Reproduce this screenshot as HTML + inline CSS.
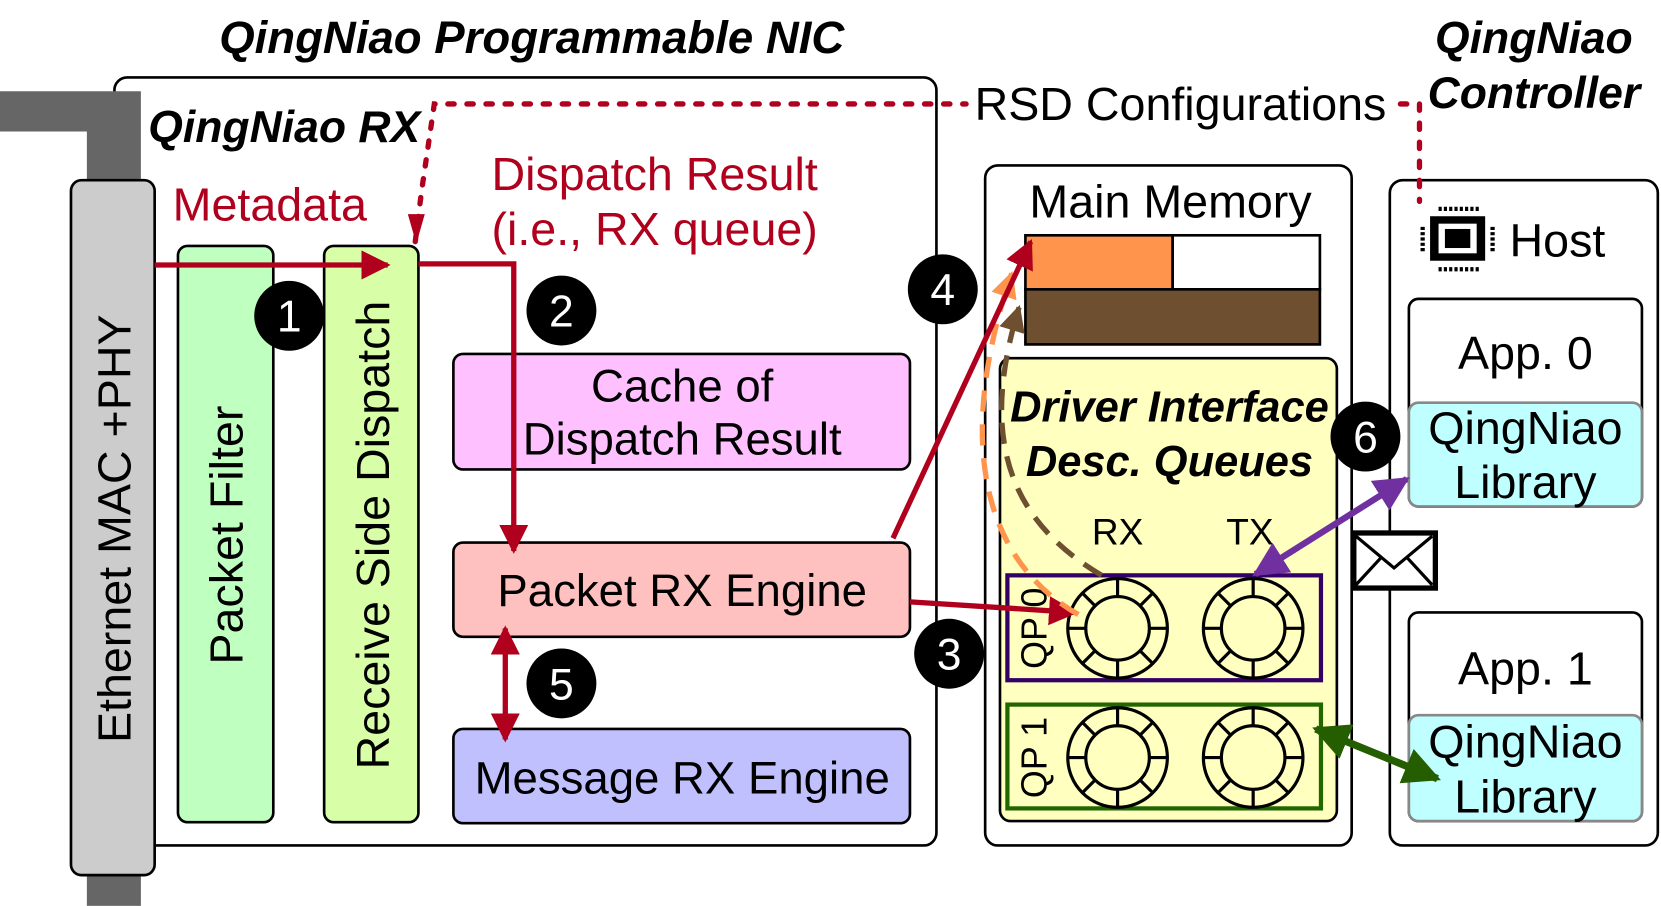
<!DOCTYPE html>
<html><head><meta charset="utf-8"><style>
html,body{margin:0;padding:0;background:#fff;}
svg{display:block;}
text{font-family:"Liberation Sans",sans-serif;}
</style></head><body>
<svg width="1661" height="906" viewBox="0 0 1568 855" xmlns="http://www.w3.org/2000/svg">
<defs>
<marker id="ar" viewBox="0 0 10 10" refX="9" refY="5" markerWidth="5.5" markerHeight="5.5" orient="auto-start-reverse"><path d="M0,0L10,5L0,10z" fill="#b0001e"/></marker>
<marker id="ap" viewBox="0 0 10 10" refX="9" refY="5" markerWidth="5.5" markerHeight="5.5" orient="auto-start-reverse"><path d="M0,0L10,5L0,10z" fill="#7030a0"/></marker>
<marker id="ag" viewBox="0 0 10 10" refX="9" refY="5" markerWidth="5" markerHeight="5" orient="auto-start-reverse"><path d="M0,0L10,5L0,10z" fill="#255e00"/></marker>
<marker id="ab" viewBox="0 0 10 10" refX="9" refY="5" markerWidth="5" markerHeight="5" orient="auto"><path d="M0,0L10,5L0,10z" fill="#6e4f2f"/></marker>
<marker id="ao" viewBox="0 0 10 10" refX="9" refY="5" markerWidth="5" markerHeight="5" orient="auto"><path d="M0,0L10,5L0,10z" fill="#ff944d"/></marker>
<g id="ring" fill="none" stroke="#000" stroke-width="3">
<circle r="47"/><circle r="30"/>
<path d="M0,-47V-30M0,47V30M-47,0H-30M47,0H30M33.2,-33.2L21.2,-21.2M-33.2,-33.2L-21.2,-21.2M33.2,33.2L21.2,21.2M-33.2,33.2L-21.2,21.2"/>
</g>
</defs>

<text x="502" y="50" font-size="43" font-weight="bold" font-style="italic" text-anchor="middle">QingNiao Programmable NIC</text>
<text x="1448" y="50" font-size="42" font-weight="bold" font-style="italic" text-anchor="middle">QingNiao</text>
<text x="1448" y="102" font-size="42" font-weight="bold" font-style="italic" text-anchor="middle">Controller</text>

<rect x="108" y="73" width="776" height="725" rx="12" fill="#fff" stroke="#000" stroke-width="2.5"/>
<path d="M0,86H133V170H82V124H0Z" fill="#666"/>
<rect x="82" y="824" width="51" height="31" fill="#666"/>
<rect x="67" y="170" width="79" height="656" rx="10" fill="#ccc" stroke="#000" stroke-width="2.5"/>
<text transform="translate(123,499) rotate(-90)" font-size="44" text-anchor="middle">Ethernet MAC +PHY</text>

<text x="140" y="134" font-size="42" font-weight="bold" font-style="italic">QingNiao RX</text>

<rect x="168" y="232" width="90" height="544" rx="9" fill="#bfffc0" stroke="#000" stroke-width="2.5"/>
<text transform="translate(229,505) rotate(-90)" font-size="44" text-anchor="middle">Packet Filter</text>
<rect x="306" y="232" width="89" height="544" rx="9" fill="#d8ffa8" stroke="#000" stroke-width="2.5"/>
<text transform="translate(367,505) rotate(-90)" font-size="44" text-anchor="middle">Receive Side Dispatch</text>

<rect x="428" y="334" width="431" height="109" rx="9" fill="#ffc0ff" stroke="#000" stroke-width="2.5"/>
<text x="644" y="379" font-size="43" text-anchor="middle">Cache of</text>
<text x="644" y="429" font-size="43" text-anchor="middle">Dispatch Result</text>
<rect x="428" y="512" width="431" height="89" rx="9" fill="#ffc0c0" stroke="#000" stroke-width="2.5"/>
<text x="644" y="572" font-size="43" text-anchor="middle">Packet RX Engine</text>
<rect x="428" y="688" width="431" height="89" rx="9" fill="#c0c0ff" stroke="#000" stroke-width="2.5"/>
<text x="644" y="749" font-size="43" text-anchor="middle">Message RX Engine</text>

<text x="163" y="208" font-size="44" fill="#b0001e">Metadata</text>
<text x="618" y="179" font-size="44" fill="#b0001e" text-anchor="middle">Dispatch Result</text>
<text x="618" y="231" font-size="44" fill="#b0001e" text-anchor="middle">(i.e., RX queue)</text>

<rect x="930" y="156" width="346" height="642" rx="12" fill="#fff" stroke="#000" stroke-width="2.5"/>
<text x="1105" y="205" font-size="44" text-anchor="middle">Main Memory</text>
<rect x="968" y="222" width="139" height="51" fill="#ff944d" stroke="#000" stroke-width="2.5"/>
<rect x="1107" y="222" width="139" height="51" fill="#fff" stroke="#000" stroke-width="2.5"/>
<rect x="968" y="273" width="278" height="52" fill="#6e4f2f" stroke="#000" stroke-width="2.5"/>

<rect x="944" y="338" width="318" height="437" rx="10" fill="#ffffc0" stroke="#000" stroke-width="2.5"/>
<text x="1104" y="398" font-size="41" font-weight="bold" font-style="italic" text-anchor="middle">Driver Interface</text>
<text x="1104" y="449" font-size="41" font-weight="bold" font-style="italic" text-anchor="middle">Desc. Queues</text>
<text x="1055" y="514" font-size="35" text-anchor="middle">RX</text>
<text x="1180" y="514" font-size="35" text-anchor="middle">TX</text>

<rect x="951" y="543" width="296" height="99" fill="none" stroke="#330066" stroke-width="4"/>
<rect x="951" y="665" width="296" height="98" fill="none" stroke="#226600" stroke-width="4"/>
<text transform="translate(988,593) rotate(-90)" font-size="34" text-anchor="middle">QP 0</text>
<text transform="translate(988,715) rotate(-90)" font-size="34" text-anchor="middle">QP 1</text>
<use href="#ring" x="1055" y="593"/><use href="#ring" x="1183" y="593"/>
<use href="#ring" x="1055" y="715"/><use href="#ring" x="1183" y="715"/>

<rect x="1312" y="170" width="253" height="628" rx="12" fill="#fff" stroke="#000" stroke-width="2.5"/>
<g>
<rect x="1350" y="204" width="52" height="42" fill="#000"/>
<rect x="1358" y="211" width="36" height="28" fill="#fff"/>
<rect x="1364" y="216" width="24" height="18" fill="#000"/>
<path d="M1358,197h38M1358,254h38M1343,214v24M1409,214v24" stroke="#000" stroke-width="4" stroke-dasharray="3,2"/>
</g>
<text x="1425" y="242" font-size="44">Host</text>
<rect x="1330" y="282" width="220" height="196" rx="9" fill="#fff" stroke="#000" stroke-width="2.5"/>
<text x="1440" y="348" font-size="44" text-anchor="middle">App. 0</text>
<rect x="1330" y="380" width="220" height="98" rx="9" fill="#c0ffff" stroke="#888" stroke-width="2.5"/>
<text x="1440" y="419" font-size="44" text-anchor="middle">QingNiao</text>
<text x="1440" y="470" font-size="44" text-anchor="middle">Library</text>
<rect x="1330" y="578" width="220" height="197" rx="9" fill="#fff" stroke="#000" stroke-width="2.5"/>
<text x="1440" y="646" font-size="44" text-anchor="middle">App. 1</text>
<rect x="1330" y="675" width="220" height="100" rx="9" fill="#c0ffff" stroke="#888" stroke-width="2.5"/>
<text x="1440" y="715" font-size="44" text-anchor="middle">QingNiao</text>
<text x="1440" y="767" font-size="44" text-anchor="middle">Library</text>

<rect x="1278" y="503" width="77" height="52" fill="#fff" stroke="#000" stroke-width="5"/>
<path d="M1280,506L1316,536L1352,506M1280,552L1304,526M1352,552L1328,526" fill="none" stroke="#000" stroke-width="3"/>

<path d="M392,228L398,180L410,98H912" fill="none" stroke="#b0001e" stroke-width="5" stroke-dasharray="6,12" stroke-linecap="round"/>
<path d="M1322,98H1340V190" fill="none" stroke="#b0001e" stroke-width="5" stroke-dasharray="6,12" stroke-linecap="round"/>
<path d="M385,202L401,202L393,230Z" fill="#b0001e"/>
<text x="920" y="113" font-size="44">RSD Configurations</text>

<line x1="146" y1="250" x2="366" y2="250" stroke="#b0001e" stroke-width="5" marker-end="url(#ar)"/>
<path d="M395,249H485V520" fill="none" stroke="#b0001e" stroke-width="5" marker-end="url(#ar)"/>
<line x1="477" y1="593" x2="477" y2="698" stroke="#b0001e" stroke-width="5" marker-start="url(#ar)" marker-end="url(#ar)"/>
<line x1="859" y1="568" x2="1015" y2="578" stroke="#b0001e" stroke-width="5" marker-end="url(#ar)"/>

<path d="M1018,580C930,530 900,420 955,258" fill="none" stroke="#ff944d" stroke-width="5" stroke-dasharray="20,12" marker-end="url(#ao)"/>
<path d="M1040,543C950,490 925,410 962,290" fill="none" stroke="#6e4f2f" stroke-width="5" stroke-dasharray="20,12" marker-end="url(#ab)"/>
<line x1="843" y1="508" x2="973" y2="228" stroke="#b0001e" stroke-width="5" marker-end="url(#ar)"/>

<line x1="1185" y1="542" x2="1328" y2="452" stroke="#7030a0" stroke-width="6" marker-start="url(#ap)" marker-end="url(#ap)"/>
<line x1="1242" y1="688" x2="1357" y2="735" stroke="#255e00" stroke-width="7" marker-start="url(#ag)" marker-end="url(#ag)"/>

<g font-size="42" fill="#fff" text-anchor="middle">
<circle cx="273" cy="298" r="33" fill="#000"/><text x="273" y="313">1</text>
<circle cx="530" cy="293" r="33" fill="#000"/><text x="530" y="308">2</text>
<circle cx="896" cy="617" r="33" fill="#000"/><text x="896" y="632">3</text>
<circle cx="890" cy="273" r="33" fill="#000"/><text x="890" y="288">4</text>
<circle cx="530" cy="645" r="33" fill="#000"/><text x="530" y="660">5</text>
<circle cx="1289" cy="412" r="33" fill="#000"/><text x="1289" y="427">6</text>
</g>
</svg>
</body></html>
